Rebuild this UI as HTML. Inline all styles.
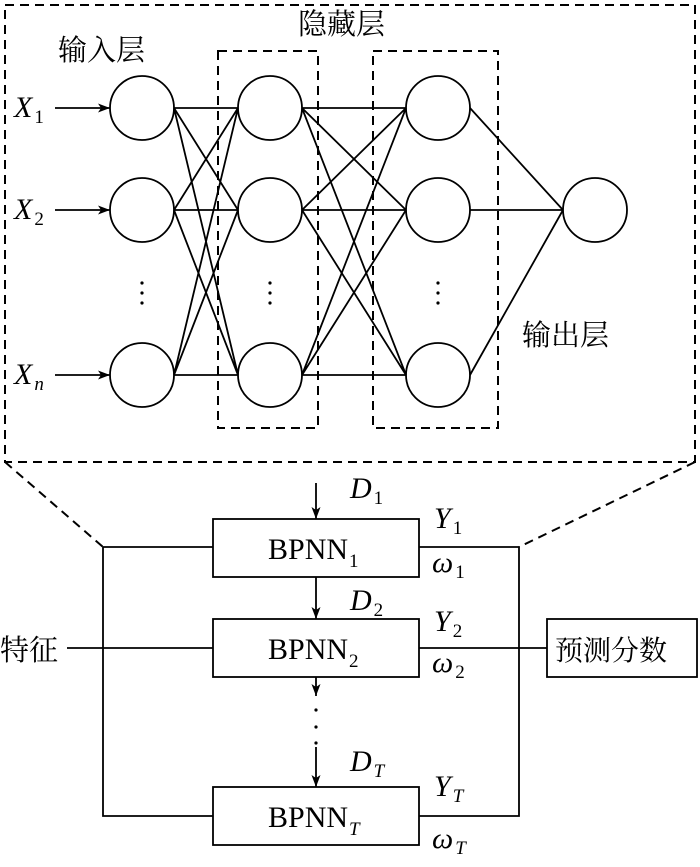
<!DOCTYPE html>
<html><head><meta charset="utf-8"><style>
html,body{margin:0;padding:0;background:#fff;}
svg text{font-family:"Liberation Serif","Noto Serif CJK SC",serif;fill:#000;}
.cj{font-family:"Liberation Serif","Noto Serif CJK SC","Noto Sans CJK SC",serif;}
</style></head><body>
<svg width="700" height="862" viewBox="0 0 700 862" xmlns="http://www.w3.org/2000/svg">
<defs><marker id="a" markerWidth="12" markerHeight="9" refX="12" refY="4.5" orient="auto" markerUnits="userSpaceOnUse"><path d="M0,0 L12,4.5 L0,9 L3,4.5z" fill="#000"/></marker></defs>
<g fill="none" stroke="#000" stroke-width="2">
<rect x="5" y="5" width="690" height="457" stroke-dasharray="9,6"/>
<rect x="218" y="51" width="100" height="377" stroke-dasharray="9,6"/>
<rect x="373" y="51" width="125" height="377" stroke-dasharray="9,6"/>
<line x1="5" y1="462" x2="103" y2="547" stroke-dasharray="9,6"/>
<line x1="695" y1="462" x2="519" y2="547" stroke-dasharray="9,6"/>
<g stroke-width="1.8">
<circle cx="142" cy="108" r="32"/><circle cx="142" cy="210" r="32"/><circle cx="142" cy="375" r="32"/>
<circle cx="270" cy="108" r="32"/><circle cx="270" cy="210" r="32"/><circle cx="270" cy="375" r="32"/>
<circle cx="438" cy="108" r="32"/><circle cx="438" cy="210" r="32"/><circle cx="438" cy="375" r="32"/>
<circle cx="595" cy="210" r="32"/>
<path d="M174,108L238,108M174,108L238,210M174,108L238,375M174,210L238,108M174,210L238,210M174,210L238,375M174,375L238,108M174,375L238,210M174,375L238,375"/>
<path d="M302,108L406,108M302,108L406,210M302,108L406,375M302,210L406,108M302,210L406,210M302,210L406,375M302,375L406,108M302,375L406,210M302,375L406,375"/>
<path d="M470,108L563,210M470,210L563,210M470,375L563,210"/>
<line x1="55" y1="108" x2="110" y2="108" marker-end="url(#a)"/>
<line x1="55" y1="210" x2="110" y2="210" marker-end="url(#a)"/>
<line x1="55" y1="375" x2="110" y2="375" marker-end="url(#a)"/>
<rect x="213" y="519" width="206" height="58"/>
<rect x="213" y="619" width="206" height="58"/>
<rect x="213" y="787" width="206" height="58"/>
<rect x="547" y="619" width="150" height="58"/>
<path d="M213,547H103V816H213M419,547H519V816H419M67,648H213M419,648H547"/>
<line x1="316" y1="483" x2="316" y2="519" marker-end="url(#a)"/>
<line x1="316" y1="577" x2="316" y2="619" marker-end="url(#a)"/>
<line x1="316" y1="677" x2="316" y2="696" marker-end="url(#a)"/>
<line x1="316" y1="747" x2="316" y2="787" marker-end="url(#a)"/>
</g></g>
<g fill="#000"><circle cx="142" cy="283" r="1.6"/><circle cx="142" cy="293" r="1.6"/><circle cx="142" cy="303" r="1.6"/>
<circle cx="270" cy="283" r="1.6"/><circle cx="270" cy="293" r="1.6"/><circle cx="270" cy="303" r="1.6"/>
<circle cx="438" cy="283" r="1.6"/><circle cx="438" cy="293" r="1.6"/><circle cx="438" cy="303" r="1.6"/>
<circle cx="316" cy="710" r="1.6"/><circle cx="316" cy="727" r="1.6"/><circle cx="316" cy="743" r="1.6"/></g>
<g font-size="29" class="cj">
<text x="58" y="60" class="cj">输入层</text>
<text x="298" y="34" class="cj">隐藏层</text>
<text x="522" y="345" class="cj">输出层</text>
<text x="0" y="660" class="cj">特征</text>
<text x="555" y="660" class="cj" font-size="28">预测分数</text>
</g>
<g font-size="30" font-style="italic">
<text x="14" y="117">X<tspan font-size="19" font-style="normal" dx="2" dy="6">1</tspan></text>
<text x="14" y="219">X<tspan font-size="19" font-style="normal" dx="2" dy="6">2</tspan></text>
<text x="14" y="384">X<tspan font-size="19" font-style="italic" dx="2" dy="6">n</tspan></text>
<text x="350" y="498">D<tspan font-size="19" font-style="normal" dx="2" dy="6">1</tspan></text>
<text x="350" y="610">D<tspan font-size="19" font-style="normal" dx="2" dy="6">2</tspan></text>
<text x="350" y="771">D<tspan font-size="19" dx="2" dy="6">T</tspan></text>
<text x="434" y="528">Y<tspan font-size="19" font-style="normal" dx="2" dy="6">1</tspan></text>
<text x="434" y="631">Y<tspan font-size="19" font-style="normal" dx="2" dy="6">2</tspan></text>
<text x="434" y="796">Y<tspan font-size="19" dx="2" dy="6">T</tspan></text>
<text x="432" y="572">ω<tspan font-size="19" font-style="normal" dx="2" dy="6">1</tspan></text>
<text x="432" y="672">ω<tspan font-size="19" font-style="normal" dx="2" dy="6">2</tspan></text>
<text x="432" y="848">ω<tspan font-size="19" dx="2" dy="6">T</tspan></text>
</g>
<g font-size="30">
<text x="268" y="559">BPNN<tspan font-size="19" dx="1" dy="8">1</tspan></text>
<text x="268" y="659">BPNN<tspan font-size="19" dx="1" dy="8">2</tspan></text>
<text x="268" y="827">BPNN<tspan font-size="19" font-style="italic" dx="1" dy="8">T</tspan></text>
</g>
</svg>
</body></html>
